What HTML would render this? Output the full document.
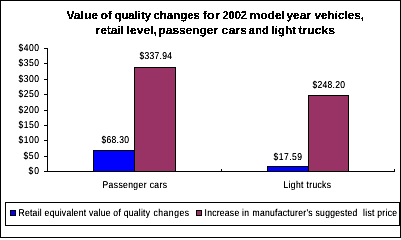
<!DOCTYPE html>
<html><head><meta charset="utf-8">
<style>
html,body{margin:0;padding:0;background:#fff;width:401px;height:238px;overflow:hidden}
svg{display:block}
text{font-family:"Liberation Sans",sans-serif;fill:#000;text-rendering:geometricPrecision}
.t{font-weight:bold;font-size:11.5px}
.n{font-size:9.5px}
</style></head><body>
<svg width="401" height="238" viewBox="0 0 401 238">
<defs>
<filter id="fn" x="0" y="0" width="401" height="238" filterUnits="userSpaceOnUse"><feComponentTransfer><feFuncA type="linear" slope="1.3"/></feComponentTransfer></filter>
<filter id="ft" x="0" y="0" width="401" height="238" filterUnits="userSpaceOnUse"><feComponentTransfer><feFuncA type="discrete" tableValues="0 1 1"/></feComponentTransfer></filter>
</defs>
<rect x="0" y="0" width="401" height="238" fill="#fff"/>
<g shape-rendering="crispEdges">
<rect x="0.5" y="0.5" width="400" height="237" fill="#fff" stroke="#000"/>
<rect x="93.5" y="150.5" width="41" height="21" fill="#00f" stroke="#000"/>
<rect x="134.5" y="67.5" width="41" height="104" fill="#936" stroke="#000"/>
<rect x="267.5" y="166.5" width="41" height="5" fill="#00f" stroke="#000"/>
<rect x="308.5" y="95.5" width="40" height="76" fill="#936" stroke="#000"/>
<g fill="#000"><rect x="47" y="48" width="1" height="124"/><rect x="44" y="171" width="351" height="1"/><rect x="44" y="48" width="3" height="1"/><rect x="44" y="63" width="3" height="1"/><rect x="44" y="79" width="3" height="1"/><rect x="44" y="94" width="3" height="1"/><rect x="44" y="110" width="3" height="1"/><rect x="44" y="125" width="3" height="1"/><rect x="44" y="140" width="3" height="1"/><rect x="44" y="156" width="3" height="1"/><rect x="221" y="169" width="1" height="2"/><rect x="394" y="169" width="1" height="2"/></g>
<rect x="5.5" y="202.5" width="394" height="23" fill="#fff" stroke="#000"/>
<rect x="10.5" y="210.5" width="5" height="5" fill="#00f" stroke="#000"/>
<rect x="196.5" y="210.5" width="5" height="5" fill="#936" stroke="#000"/>
</g>
<g filter="url(#ft)">
<text class="t" transform="translate(66.50 19) scale(1.0 1.0)" x="0" y="0" textLength="31.50" lengthAdjust="spacingAndGlyphs">Value</text>
<text class="t" transform="translate(100.50 19) scale(1.0 1.0)" x="0" y="0" textLength="11.50" lengthAdjust="spacingAndGlyphs">of</text>
<text class="t" transform="translate(114.50 19) scale(1.0 1.0)" x="0" y="0" textLength="36.50" lengthAdjust="spacingAndGlyphs">quality</text>
<text class="t" transform="translate(153.50 19) scale(1.0 1.0)" x="0" y="0" textLength="46.50" lengthAdjust="spacingAndGlyphs">changes</text>
<text class="t" transform="translate(202.50 19) scale(1.0 1.0)" x="0" y="0" textLength="17.50" lengthAdjust="spacingAndGlyphs">for</text>
<text class="t" transform="translate(222.50 19) scale(1.0 1.0)" x="0" y="0" textLength="24.50" lengthAdjust="spacingAndGlyphs">2002</text>
<text class="t" transform="translate(249.50 19) scale(1.0 1.0)" x="0" y="0" textLength="35.50" lengthAdjust="spacingAndGlyphs">model</text>
<text class="t" transform="translate(286.50 19) scale(1.0 1.0)" x="0" y="0" textLength="24.50" lengthAdjust="spacingAndGlyphs">year</text>
<text class="t" transform="translate(314.50 19) scale(1.0 1.0)" x="0" y="0" textLength="49.50" lengthAdjust="spacingAndGlyphs">vehicles,</text>
<text class="t" transform="translate(95.50 34) scale(1.0 1.0)" x="0" y="0" textLength="28.50" lengthAdjust="spacingAndGlyphs">retail</text>
<text class="t" transform="translate(126.50 34) scale(1.0 1.0)" x="0" y="0" textLength="30.50" lengthAdjust="spacingAndGlyphs">level,</text>
<text class="t" transform="translate(158.50 34) scale(1.0 1.0)" x="0" y="0" textLength="59.50" lengthAdjust="spacingAndGlyphs">passenger</text>
<text class="t" transform="translate(221.50 34) scale(1.0 1.0)" x="0" y="0" textLength="25.50" lengthAdjust="spacingAndGlyphs">cars</text>
<text class="t" transform="translate(248.50 34) scale(1.0 1.0)" x="0" y="0" textLength="20.50" lengthAdjust="spacingAndGlyphs">and</text>
<text class="t" transform="translate(271.50 34) scale(1.0 1.0)" x="0" y="0" textLength="24.50" lengthAdjust="spacingAndGlyphs">light</text>
<text class="t" transform="translate(298.50 34) scale(1.0 1.0)" x="0" y="0" textLength="36.50" lengthAdjust="spacingAndGlyphs">trucks</text>
</g>
<g filter="url(#fn)">
<text class="n" transform="translate(18.50 51) scale(0.9 1.05)" x="0" y="0" textLength="22.78" lengthAdjust="spacing">$400</text>
<text class="n" transform="translate(18.50 66) scale(0.9 1.05)" x="0" y="0" textLength="22.78" lengthAdjust="spacing">$350</text>
<text class="n" transform="translate(18.50 82) scale(0.9 1.05)" x="0" y="0" textLength="22.78" lengthAdjust="spacing">$300</text>
<text class="n" transform="translate(18.50 97) scale(0.9 1.05)" x="0" y="0" textLength="22.78" lengthAdjust="spacing">$250</text>
<text class="n" transform="translate(18.50 113) scale(0.9 1.05)" x="0" y="0" textLength="22.78" lengthAdjust="spacing">$200</text>
<text class="n" transform="translate(18.50 128) scale(0.9 1.05)" x="0" y="0" textLength="22.78" lengthAdjust="spacing">$150</text>
<text class="n" transform="translate(18.50 143) scale(0.9 1.05)" x="0" y="0" textLength="22.78" lengthAdjust="spacing">$100</text>
<text class="n" transform="translate(23.50 159) scale(0.9 1.05)" x="0" y="0" textLength="17.22" lengthAdjust="spacing">$50</text>
<text class="n" transform="translate(28.50 174) scale(0.9 1.05)" x="0" y="0" textLength="11.67" lengthAdjust="spacing">$0</text>
<text class="n" transform="translate(139.50 59) scale(0.9 1.05)" x="0" y="0" textLength="36.11" lengthAdjust="spacing">$337.94</text>
<text class="n" transform="translate(101.50 143) scale(0.9 1.05)" x="0" y="0" textLength="30.56" lengthAdjust="spacing">$68.30</text>
<text class="n" transform="translate(273.50 160) scale(0.9 1.05)" x="0" y="0" textLength="31.67" lengthAdjust="spacing">$17.59</text>
<text class="n" transform="translate(312.50 88) scale(0.9 1.05)" x="0" y="0" textLength="36.11" lengthAdjust="spacing">$248.20</text>
<text class="n" transform="translate(102.50 188) scale(0.9 1.05)" x="0" y="0" textLength="71.67" lengthAdjust="spacing">Passenger cars</text>
<text class="n" transform="translate(283.50 188) scale(0.9 1.05)" x="0" y="0" textLength="52.78" lengthAdjust="spacing">Light trucks</text>
<text class="n" transform="translate(18.50 216) scale(0.9 1.05)" x="0" y="0" textLength="146.11" lengthAdjust="spacing">Retail equivalent value of quality</text>
<text class="n" transform="translate(153.50 216) scale(0.9 1.05)" x="0" y="0" textLength="39.44" lengthAdjust="spacing">changes</text>
<text class="n" transform="translate(204.50 216) scale(0.9 1.05)" x="0" y="0" textLength="49.44" lengthAdjust="spacing">Increase in</text>
<text class="n" transform="translate(252.50 216) scale(0.9 1.05)" x="0" y="0" textLength="160.56" lengthAdjust="spacing" xml:space="preserve">manufacturer's suggested  list price</text>
</g>
</svg>
</body></html>
